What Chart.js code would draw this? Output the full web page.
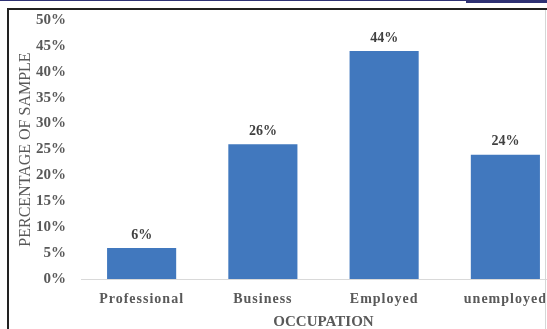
<!DOCTYPE html>
<html>
<head>
<meta charset="utf-8">
<script src="https://cdn.jsdelivr.net/npm/chart.js@4.4.1/dist/chart.umd.min.js"></script>
<style>
  html, body { margin: 0; padding: 0; width: 547px; height: 329px; overflow: hidden; background: #fff; }
  #top_line { position: absolute; left: 0; top: 0; width: 466px; height: 1px; background: #2e3174; }
  #top_tab { position: absolute; left: 466px; top: 0; width: 81px; height: 3px; background: #2e3174; }
  #frame { position: absolute; left: 7px; top: 8px; width: 538px; height: 330px;
           border-left: 2px solid #222; border-top: 2px solid #222; overflow: hidden; }
  #edge { position: absolute; left: 545px; top: 10px; width: 1px; height: 319px; background: #d6d6d6; }
  #chart { position: absolute; left: 0; top: 0; }
</style>
</head>
<body>
<div id="top_line"></div>
<div id="top_tab"></div>
<div id="frame"><canvas id="chart" width="580" height="329"></canvas></div>
<div id="edge"></div>
<script>
//---------------------------------------
// Data
//---------------------------------------
const occupations = ['Professional', 'Business', 'Employed', 'unemployed'];
const sample_pct = [6, 26, 44, 24];
const y_min = 0;
const y_max = 50;
const y_step = 5;

//---------------------------------------
// Style
//---------------------------------------
const serif = "'Liberation Serif', 'Times New Roman', serif";
const text_gray = '#595959';
const bar_blue = '#4178be';

//---------------------------------------
// Plugins
//---------------------------------------

// value labels above each bar
const bar_labels = {
  id: 'bar_labels',
  afterDatasetsDraw(chart) {
    const ctx = chart.ctx;
    const meta = chart.getDatasetMeta(0);
    ctx.save();
    ctx.font = 'bold 14px ' + serif;
    ctx.fillStyle = '#404040';
    ctx.textAlign = 'center';
    ctx.textBaseline = 'middle';
    meta.data.forEach((bar, i) => {
      ctx.fillText(sample_pct[i] + '%', bar.x, bar.y - 13);
    });
    ctx.restore();
  }
};

// category labels are drawn letter-spaced
const spaced_ticks = {
  id: 'spaced_ticks',
  beforeDraw(chart) {
    const scale = chart.scales.x;
    if (scale._spaced) return;
    const draw_labels = scale.drawLabels;
    scale.drawLabels = function (area) {
      const ctx = this.ctx;
      ctx.save();
      ctx.letterSpacing = '1px';
      draw_labels.call(this, area);
      ctx.letterSpacing = '0px';
      ctx.restore();
    };
    scale._spaced = true;
  }
};

//---------------------------------------
// Chart
//---------------------------------------
const canvas = document.getElementById('chart');

new Chart(canvas, {
  type: 'bar',
  data: {
    labels: occupations,
    datasets: [{
      data: sample_pct,
      backgroundColor: bar_blue,
      categoryPercentage: 1.0,
      barPercentage: 0.57
    }]
  },
  options: {
    responsive: false,
    animation: false,
    layout: { padding: { left: 0, right: 23, top: 10, bottom: 0 } },
    plugins: {
      legend: { display: false },
      tooltip: { enabled: false }
    },
    scales: {
      x: {
        grid: { display: false, drawTicks: false },
        border: { display: true, color: '#d9d9d9', width: 1 },
        ticks: {
          color: text_gray,
          padding: 12,
          font: { family: serif, size: 14, weight: 'bold' }
        },
        title: {
          display: true,
          text: 'OCCUPATION',
          color: text_gray,
          padding: { top: 0, bottom: 8 },
          font: { family: serif, size: 15, weight: 'bold' }
        },
        afterFit(axis) { axis.height = 60; }
      },
      y: {
        min: y_min,
        max: y_max,
        // grid hidden; tick length only spaces the labels from the plot
        grid: { display: false, drawTicks: true, tickLength: 15 },
        border: { display: false },
        ticks: {
          stepSize: y_step,
          color: text_gray,
          padding: 0,
          font: { family: serif, size: 15, weight: 'bold' },
          callback: (v) => v + '%'
        },
        title: {
          display: true,
          text: 'PERCENTAGE OF SAMPLE',
          color: text_gray,
          padding: { top: 7, bottom: 0 },
          font: { family: serif, size: 16, weight: 'normal' }
        },
        afterFit(axis) { axis.width = 72; }
      }
    }
  },
  plugins: [bar_labels, spaced_ticks]
});
</script>
</body>
</html>
